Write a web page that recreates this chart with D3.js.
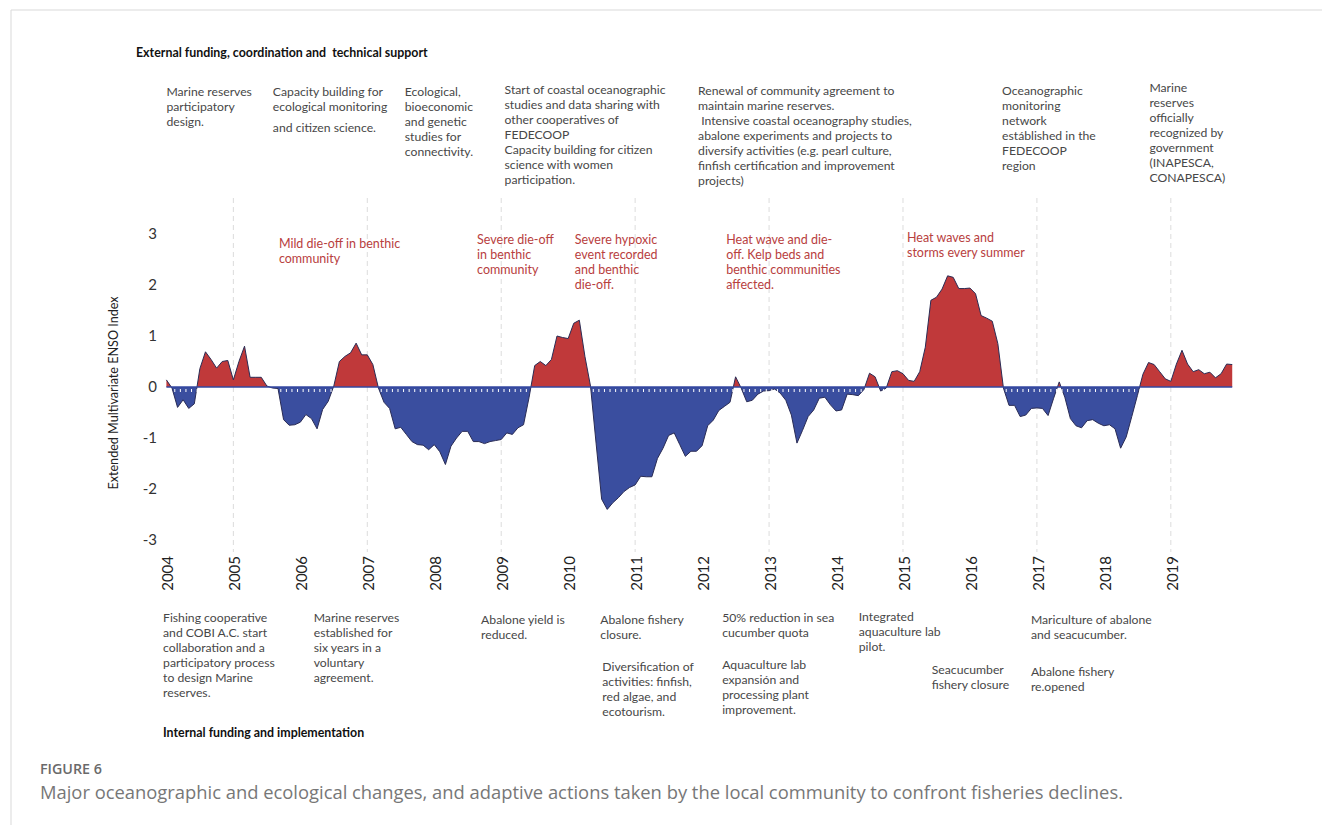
<!DOCTYPE html>
<html>
<head>
<meta charset="utf-8">
<script src="https://cdn.jsdelivr.net/npm/d3@7"></script>
<style>
  body { margin: 0; background: #fff; }
  svg { display: block; font-family: Lato, "Open Sans", sans-serif; }
  .note { fill: #474747; font-size: 12.2px; }
  .event { fill: #b8403e; font-size: 12.5px; }
  .head { fill: #111; font-size: 12.4px; font-weight: bold; white-space: pre; }
  .tick-y { fill: #333; font-size: 15px; }
  .tick-x { fill: #222; font-size: 15px; }
</style>
</head>
<body>
<svg id="chart" width="1322" height="825"></svg>
<script>
/*** Data: Extended MEI, monthly ***/
const enso2004 = [0.14, -0.02, -0.40, -0.25, -0.42, -0.33, 0.36, 0.69, 0.54, 0.37, 0.50, 0.52];
const enso2005 = [0.14, 0.50, 0.80, 0.19, 0.19, 0.19, 0.02, -0.02, -0.03, -0.64, -0.75, -0.74];
const enso2006 = [-0.69, -0.54, -0.62, -0.82, -0.44, -0.28, 0.02, 0.50, 0.60, 0.67, 0.86, 0.63];
const enso2007 = [0.63, 0.44, -0.02, -0.30, -0.42, -0.82, -0.79, -0.93, -1.07, -1.13, -1.14, -1.23];
const enso2008 = [-1.13, -1.27, -1.52, -1.16, -1.00, -0.87, -0.87, -1.07, -1.07, -1.11, -1.07, -1.05];
const enso2009 = [-1.03, -0.90, -0.93, -0.80, -0.74, -0.20, 0.42, 0.50, 0.42, 0.54, 1.00, 0.97];
const enso2010 = [0.95, 1.25, 1.31, 0.60, 0.02, -1.10, -2.20, -2.40, -2.27, -2.17, -2.05, -1.97];
const enso2011 = [-1.92, -1.75, -1.76, -1.76, -1.40, -1.20, -0.95, -0.90, -1.13, -1.36, -1.26, -1.26];
const enso2012 = [-1.15, -0.76, -0.65, -0.46, -0.38, -0.30, 0.20, -0.02, -0.29, -0.26, -0.14, -0.08];
const enso2013 = [-0.07, -0.04, -0.12, -0.26, -0.55, -1.10, -0.85, -0.58, -0.45, -0.22, -0.20, -0.35];
const enso2014 = [-0.47, -0.45, -0.14, -0.15, -0.17, -0.05, 0.27, 0.20, -0.08, -0.02, 0.30, 0.32];
const enso2015 = [0.26, 0.13, 0.11, 0.30, 0.78, 1.70, 1.76, 1.92, 2.18, 2.15, 1.93, 1.93];
const enso2016 = [1.94, 1.83, 1.40, 1.35, 1.29, 0.85, -0.02, -0.36, -0.36, -0.58, -0.55, -0.42];
const enso2017 = [-0.41, -0.42, -0.56, -0.22, 0.10, -0.20, -0.62, -0.76, -0.80, -0.66, -0.64, -0.71];
const enso2018 = [-0.76, -0.74, -0.82, -1.20, -0.98, -0.58, -0.17, 0.25, 0.48, 0.44, 0.30, 0.16];
const enso2019 = [0.11, 0.45, 0.72, 0.45, 0.30, 0.34, 0.26, 0.29, 0.18, 0.26, 0.45, 0.44];

const yearLabels = ["2004", "2005", "2006", "2007", "2008", "2009", "2010", "2011",
                    "2012", "2013", "2014", "2015", "2016", "2017", "2018", "2019"];
const yTicks = [3, 2, 1, 0, -1, -2, -3];
const gridYears = [2005, 2007, 2009, 2011, 2013, 2015, 2017, 2019];

// Notes, anchored on a date (decimal year)
const topNotes = [
  {at: 2004.0, lines: ["Marine reserves", "participatory", "design."]},
  {at: 2005.59, lines: ["Capacity building for", "ecological monitoring", "and citizen science."]},
  {at: 2007.56, lines: ["Ecological,", "bioeconomic", "and genetic", "studies for", "connectivity."]},
  {at: 2009.05, lines: ["Start of coastal oceanographic", "studies and data sharing with", "other cooperatives of",
                        "FEDECOOP", "Capacity building for citizen", "science with women", "participation."]},
  {at: 2011.94, lines: ["Renewal of community agreement to", "maintain marine reserves.",
                        " Intensive coastal oceanography studies,", "abalone experiments and projects to",
                        "diversify activities (e.g. pearl culture,", "finfish certification and improvement", "projects)"]},
  {at: 2016.48, lines: ["Oceanographic", "monitoring", "network", "estáblished in the", "FEDECOOP", "region"]},
  {at: 2018.68, lines: ["Marine", "reserves", "officially", "recognized by", "government", "(INAPESCA,", "CONAPESCA)"]}
];
const eventNotes = [
  {at: 2005.68, lines: ["Mild die-off in benthic", "community"]},
  {at: 2008.64, lines: ["Severe die-off", "in benthic", "community"]},
  {at: 2010.1, lines: ["Severe hypoxic", "event recorded", "and benthic", "die-off."]},
  {at: 2012.36, lines: ["Heat wave and die-", "off. Kelp beds and", "benthic communities", "affected."]},
  {at: 2015.06, lines: ["Heat waves and", "storms every summer"]}
];
const bottomNotes = [
  {at: 2003.95, lines: ["Fishing cooperative", "and COBI A.C. start", "collaboration and a",
                        "participatory process", "to design Marine", "reserves."]},
  {at: 2006.2, lines: ["Marine reserves", "established for", "six years in a", "voluntary", "agreement."]},
  {at: 2008.7, lines: ["Abalone yield is", "reduced."]},
  {at: 2010.48, lines: ["Abalone fishery", "closure."]},
  {at: 2010.51, lines: ["Diversification of", "activities: finfish,", "red algae, and", "ecotourism."]},
  {at: 2012.3, lines: ["50% reduction in sea", "cucumber quota"]},
  {at: 2012.3, lines: ["Aquaculture lab", "expansión and", "processing plant", "improvement."]},
  {at: 2014.34, lines: ["Integrated", "aquaculture lab", "pilot."]},
  {at: 2015.43, lines: ["Seacucumber", "fishery closure"]},
  {at: 2016.91, lines: ["Mariculture of abalone", "and seacucumber."]},
  {at: 2016.91, lines: ["Abalone fishery", "re.opened"]}
];

/*** Layout ***/
const topNoteY = [92, 92, 92, 90, 91, 91, 88];
const eventNoteY = [244, 240, 240, 240, 238];
const bottomNoteY = [618, 618, 620, 620, 667, 618, 665, 617, 670, 620, 672];

/*** Build series ***/
const ensoYears = [enso2004, enso2005, enso2006, enso2007, enso2008, enso2009, enso2010, enso2011,
                   enso2012, enso2013, enso2014, enso2015, enso2016, enso2017, enso2018, enso2019];
let series = [];
ensoYears.forEach(function(vals, yi) {
  vals.forEach(function(v, m) {
    series.push({t: 2004 + yi + m / 12, v: v});
  });
});

const svg = d3.select("#chart");
const x = d3.scaleLinear().domain([2004, 2020]).range([166.4, 1237.8]);
const y = d3.scaleLinear().domain([-3, 3]).range([540, 234]);
const y0 = y(0);

// card border
svg.append("line").attr("x1", 11).attr("x2", 11).attr("y1", 10).attr("y2", 825)
    .attr("stroke", "#d9d9d9");
svg.append("line").attr("x1", 11).attr("x2", 1322).attr("y1", 10).attr("y2", 10)
    .attr("stroke", "#d9d9d9");

// dashed year grid
svg.append("g").selectAll("line")
    .data(gridYears).enter()
    .append("line")
        .attr("x1", d => x(d)).attr("x2", d => x(d))
        .attr("y1", 198).attr("y2", 552)
        .attr("stroke", "#dcdcdc")
        .attr("stroke-dasharray", "5,4");

// clip paths for positive / negative parts
const defs = svg.append("defs");
defs.append("clipPath").attr("id", "clip-pos")
    .append("rect").attr("x", 0).attr("y", 0).attr("width", 1322).attr("height", y0);
defs.append("clipPath").attr("id", "clip-neg")
    .append("rect").attr("x", 0).attr("y", y0).attr("width", 1322).attr("height", 825 - y0);

const area = d3.area().x(d => x(d.t)).y0(y0).y1(d => y(d.v));
const line = d3.line().x(d => x(d.t)).y(d => y(d.v));

svg.append("path").datum(series)
    .attr("clip-path", "url(#clip-neg)")
    .attr("fill", "#3a4e9f")
    .attr("d", area);
svg.append("path").datum(series)
    .attr("clip-path", "url(#clip-pos)")
    .attr("fill", "#c0393a")
    .attr("d", area);
svg.append("path").datum(series)
    .attr("fill", "none")
    .attr("stroke", "#2a2c55")
    .attr("stroke-width", 1)
    .attr("d", line);

// zero line and monthly ticks under it
svg.append("line")
    .attr("x1", x(2004)).attr("x2", x(series[series.length - 1].t))
    .attr("y1", y0).attr("y2", y0)
    .attr("stroke", "#3347a0").attr("stroke-width", 1.5);
svg.append("g").selectAll("line")
    .data(series).enter()
    .append("line")
        .attr("x1", d => x(d.t) + 2.8).attr("x2", d => x(d.t) + 2.8)
        .attr("y1", y0 + 2).attr("y2", y0 + 5)
        .attr("stroke", "#fff").attr("stroke-width", 1);

// y axis labels
svg.append("g").selectAll("text")
    .data(yTicks).enter()
    .append("text")
        .attr("class", "tick-y")
        .attr("x", 157).attr("y", d => y(d))
        .attr("dy", "0.35em")
        .attr("text-anchor", "end")
        .text(d => d);
svg.append("text")
    .attr("transform", "translate(114,393) rotate(-90)")
    .attr("dy", "0.35em")
    .attr("text-anchor", "middle")
    .style("font-size", "12.6px").style("fill", "#222")
    .text("Extended Multivariate ENSO Index");

// x axis labels (rotated)
svg.append("g").selectAll("text")
    .data(yearLabels).enter()
    .append("text")
        .attr("class", "tick-x")
        .attr("transform", d => "translate(" + (x(+d) + 1.5) + ",556) rotate(-90)")
        .attr("dy", "0.35em")
        .attr("text-anchor", "end")
        .text(d => d);

/*** Text blocks ***/
function drawNotes(notes, ys, cls, lh) {
  notes.forEach(function(n, i) {
    let t = svg.append("text").attr("class", cls);
    n.lines.forEach(function(s, j) {
      t.append("tspan")
          .attr("x", x(n.at))
          .attr("y", ys[i] + j * lh)
          .attr("dy", "0.35em")
          .text(s);
    });
  });
}
drawNotes(topNotes, topNoteY, "note", 15);
drawNotes(eventNotes, eventNoteY, "event", 15);
drawNotes(bottomNotes, bottomNoteY, "note", 15);

// the odd spacing on "and citizen science."
svg.selectAll("text.note").filter((d, i) => i == 1).select("tspan:nth-child(3)")
    .attr("y", 128);

svg.append("text").attr("class", "head").attr("x", 136).attr("y", 53).attr("dy", "0.35em")
    .text("External funding, coordination and  technical support");
svg.append("text").attr("class", "head").attr("x", 163).attr("y", 733).attr("dy", "0.35em")
    .text("Internal funding and implementation");

// figure caption
svg.append("text").attr("x", 40).attr("y", 769).attr("dy", "0.35em")
    .style("font-family", "'Open Sans', sans-serif").style("font-size", "14px")
    .style("font-weight", 600).style("fill", "#6a6a6a")
    .attr("textLength", 62).attr("lengthAdjust", "spacingAndGlyphs")
    .text("FIGURE 6");
svg.append("text").attr("x", 40).attr("y", 792).attr("dy", "0.35em")
    .style("font-family", "'Open Sans', sans-serif").style("font-size", "19px")
    .style("fill", "#777")
    .attr("textLength", 1083).attr("lengthAdjust", "spacingAndGlyphs")
    .text("Major oceanographic and ecological changes, and adaptive actions taken by the local community to confront fisheries declines.");
</script>
</body>
</html>
